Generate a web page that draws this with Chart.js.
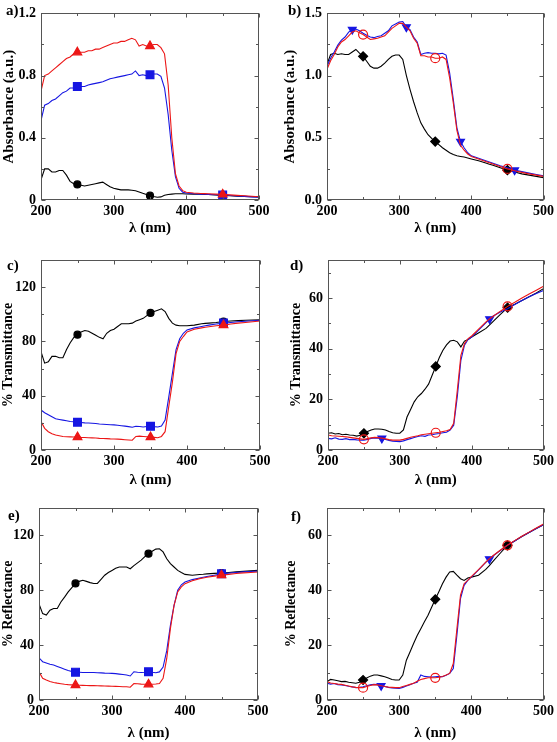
<!DOCTYPE html>
<html><head><meta charset="utf-8">
<script src="https://cdn.jsdelivr.net/npm/chart.js@4/dist/chart.umd.min.js"></script>
<style>
body{margin:0;background:#fff;width:557px;height:742px;position:relative;overflow:hidden}
canvas{position:absolute}
</style></head><body>
<canvas id="pa" width="278" height="245" style="left:0;top:0"></canvas>
<canvas id="pb" width="279" height="245" style="left:278px;top:0"></canvas>
<canvas id="pc" width="278" height="245" style="left:0;top:245px"></canvas>
<canvas id="pd" width="279" height="245" style="left:278px;top:245px"></canvas>
<canvas id="pe" width="278" height="252" style="left:0;top:490px"></canvas>
<canvas id="pf" width="279" height="252" style="left:278px;top:490px"></canvas>
<script>
// wavelength grid (nm)
const WL = [200,205,210,215,220,225,230,235,240,245,250,255,260,265,270,275,280,285,290,295,
  300,305,310,315,320,325,330,335,340,345,350,355,360,365,370,375,380,385,390,395,400,
  410,420,425,430,440,450,460,470,480,490,500];
const X_TICKS = [200,300,400,500];
const X_LABELS = ['200','300','400','500'];

// panel a – absorbance
const aRed = [0.70,0.80,0.81,0.83,0.85,0.87,0.89,0.91,0.92,0.94,
  0.95,0.95,0.95,0.96,0.96,0.97,0.97,0.98,0.99,1.00,
  1.01,1.01,1.02,1.02,1.03,1.04,1.03,0.99,1.00,0.99,
  0.99,1.00,1.00,0.98,0.94,0.74,0.40,0.17,0.09,0.06,0.05,
  0.045,0.042,0.041,0.04,0.038,0.036,0.033,0.03,0.027,0.024,0.021];
const aBlue = [0.51,0.61,0.62,0.64,0.65,0.67,0.69,0.70,0.72,0.72,
  0.73,0.73,0.73,0.74,0.745,0.75,0.755,0.76,0.77,0.78,
  0.785,0.79,0.795,0.80,0.805,0.81,0.83,0.80,0.805,0.80,
  0.805,0.81,0.81,0.795,0.72,0.55,0.32,0.15,0.075,0.05,0.045,
  0.04,0.038,0.037,0.036,0.034,0.032,0.029,0.026,0.023,0.02,0.018];
const aBlack = [0.13,0.20,0.20,0.18,0.18,0.19,0.19,0.16,0.12,0.105,
  0.10,0.095,0.09,0.095,0.10,0.105,0.11,0.115,0.10,0.085,
  0.075,0.07,0.065,0.065,0.065,0.063,0.06,0.052,0.043,0.035,
  0.028,0.022,0.018,0.02,0.03,0.035,0.038,0.04,0.04,0.04,0.039,
  0.038,0.037,0.036,0.035,0.032,0.029,0.027,0.025,0.023,0.021,0.02];
const aYTicks = [0,0.4,0.8,1.2];
const aYLabels = ['0','0.4','0.8','1.2'];

// panel b – absorbance
const bBlue = [1.075,1.14,1.19,1.245,1.285,1.31,1.35,1.37,1.375,1.36,
  1.34,1.325,1.31,1.305,1.315,1.32,1.34,1.36,1.40,1.415,
  1.43,1.435,1.39,1.37,1.31,1.27,1.17,1.18,1.185,1.18,
  1.18,1.175,1.18,1.165,1.02,0.81,0.58,0.47,0.42,0.38,0.355,
  0.335,0.315,0.305,0.295,0.275,0.26,0.24,0.228,0.216,0.205,0.195];
const bRed = [1.05,1.12,1.17,1.23,1.27,1.29,1.32,1.35,1.36,1.345,
  1.33,1.31,1.29,1.295,1.30,1.31,1.32,1.35,1.38,1.40,
  1.42,1.42,1.39,1.36,1.30,1.26,1.16,1.16,1.15,1.15,
  1.14,1.14,1.15,1.13,0.98,0.78,0.56,0.44,0.40,0.37,0.35,
  0.33,0.31,0.30,0.29,0.27,0.25,0.235,0.222,0.21,0.20,0.19];
const bBlack = [1.09,1.17,1.18,1.17,1.175,1.17,1.17,1.19,1.21,1.18,
  1.155,1.115,1.075,1.06,1.06,1.075,1.10,1.13,1.155,1.165,
  1.165,1.13,1.0,0.89,0.79,0.70,0.62,0.57,0.525,0.495,
  0.47,0.445,0.42,0.40,0.38,0.365,0.355,0.35,0.345,0.338,0.33,
  0.315,0.297,0.288,0.28,0.26,0.24,0.225,0.21,0.2,0.19,0.18];
const bYTicks = [0,0.5,1.0,1.5];
const bYLabels = ['0.0','0.5','1.0','1.5'];

// panel c – % transmittance
const cBlack = [72.5,64,65,69,69,68,68,74,79,83,
  85,87,88,87.5,86,84.5,83,82,86,88,
  89,91,93,93,93,93.5,95,96,97,99,
  101,102,103,104,102,97,93.5,92,91.5,91.5,91.5,
  92,93,93.3,93.5,94,94.7,95,95.3,95.6,95.8,96];
const cBlue = [29.5,27.5,26,24.5,23,22.5,22,21.5,21,20.8,
  20.5,20.3,20,19.9,19.7,19.5,19.2,19,18.8,18.6,
  18.5,18.2,17.9,17.6,17.2,16.8,17.5,17.3,17,17.3,
  17.5,17.2,17,17.7,22,39,56.5,74,82,86,88.5,
  90,91,91.5,92,92.8,93.5,94,94.5,94.9,95.2,95.5];
const cRed = [21,16,13.5,12,11,10.5,10,9.8,9.7,9.6,
  9.5,9.3,9.2,9,8.9,8.8,8.6,8.5,8.4,8.2,
  8.1,8,7.8,7.6,7.4,7.2,10,10.2,10,9.8,
  9.5,9.3,9,10,13.5,32,50,71,80,83.6,87,
  89,90,90.4,90.8,91.5,92,92.8,93.5,94,94.5,95];
const cYTicks = [0,40,80,120];
const cYLabels = ['0','40','80','120'];

// panel d – % transmittance
const dBlack = [6.6,6.8,6.3,6.5,6,6.2,5.9,5.8,5.5,5.8,
  6.6,7.3,7.9,8.3,8.3,8.2,7.9,7.3,6.8,6.6,
  6.6,7.9,13,16,19,21,22.3,24,26,29.5,
  33,36.5,39.4,41.5,43,43.3,42.7,40.7,43,43.6,44.6,
  46.3,48,49.4,50.8,53.5,56.2,57.5,59,60.5,62,63.7];
const dBlue = [4.6,4.4,4.8,4.3,4.2,4.5,4.1,4.2,4.0,3.9,
  3.9,4.2,4.6,4.8,4.7,4.6,4.2,3.8,3.5,3.4,
  3.3,3.6,4.1,4.5,4.9,5.3,5.6,5.4,5.9,6.0,
  6.3,6.5,6.8,7.0,7.9,9.8,21,35.4,41.4,43.6,44.6,
  47.4,50.3,51.7,52.9,54.5,55.8,57.4,59,60.5,61.8,63];
const dRed = [5.9,5.6,5.5,5.4,5.3,5.2,5.0,4.8,4.6,4.4,
  4.2,4.5,4.8,5.0,4.9,4.7,4.4,4.1,3.9,3.9,
  3.9,4.2,4.6,5.0,5.3,5.6,6.0,6.2,6.4,6.6,
  6.8,7.0,7.3,7.6,8.1,10.5,23.6,37.4,42,44,45,
  47.8,50.6,51.8,52.8,54.8,56.7,58.3,60,61.6,63.1,64.6];
const dYTicks = [0,20,40,60];
const dYLabels = ['0','20','40','60'];

// panel e – % reflectance
const eBlack = [70,63,62,65.5,66.7,66.7,71.5,75,78.8,82,
  85,86.5,87.3,86.5,85.6,85,85,88,91,93,
  94.5,96,97,97,97,95.7,98,100,102,104.5,
  106.7,108.5,110,110.3,108,103,99.4,97,94.5,93,91.6,
  91,91.5,91.7,92,92.3,92.6,93,93.4,93.8,94.2,94.5];
const eBlue = [30.8,27.9,27,26,25.5,24.5,23.5,22.5,21.5,20.8,
  20.3,20.2,20.1,20.1,20,20,19.9,19.8,19.6,19.5,
  19.4,19.2,18.9,18.6,18.2,17.5,20.6,20.2,20,20.2,
  20.6,20.2,19.9,20.5,24,36,54.5,69,80,84,86,
  87.8,89,89.5,90,91,92,92.5,93,93.4,93.7,94];
const eRed = [20.6,15.8,14.5,13.5,12.8,12.3,11.9,11.5,11.2,11,
  10.9,10.8,10.7,10.6,10.5,10.5,10.4,10.3,10.2,10.1,
  10,9.9,9.8,9.7,9.7,9.3,12,11.8,11.6,11.5,
  11.4,11.5,11.7,12,15.8,30.3,52,69,78.8,82.5,84.8,
  87,88.5,89,89.5,90.3,91,91.6,92.2,92.7,93,93.3];
const eYTicks = [0,40,80,120];
const eYLabels = ['0','40','80','120'];

// panel f – % reflectance
const fBlack = [6.7,7.5,7.3,7.0,6.7,6.8,6.5,6.3,6.1,6.5,
  7.3,8.0,8.7,9.1,9.1,8.8,8.5,8.0,7.5,7.3,
  7.3,9.1,14.5,17.5,20.6,23.5,26,28.5,30.9,33.8,
  36.7,39.5,42.4,44.8,46.7,46.9,45.5,44.2,43.6,44.5,44.8,
  45.5,47.6,49,50.5,53.5,56.4,58,59.6,61.1,62.5,63.9];
const fBlue = [6.1,5.8,6.0,5.6,5.5,5.3,5.0,4.8,4.5,4.6,
  4.8,5.2,5.5,5.7,5.6,5.2,4.9,4.6,4.4,4.3,
  4.2,4.6,5.1,5.6,6.1,6.5,9.1,8.6,8.5,8.4,
  8.5,8.6,8.5,9.0,9.7,11.5,23.6,37,41.8,43.6,44.8,
  47.4,50.2,51.4,52.5,54.5,56.4,58,59.6,61.1,62.5,63.9];
const fRed = [6.7,6.2,6.0,5.8,5.7,5.4,5.1,4.8,4.6,4.5,
  4.5,4.9,5.3,5.6,5.5,5.2,4.9,4.7,4.6,4.5,
  4.5,4.9,5.3,5.7,6.1,6.8,7.5,7.8,8.1,8.1,
  8.1,8.3,8.6,9.1,9.7,13.3,26,38.2,42.4,43.6,45,
  47.5,50.3,51.5,52.6,54.6,56.4,58.1,59.7,61.2,62.7,64.2];
const fYTicks = [0,20,40,60];
const fYLabels = ['0','20','40','60'];

// marker wavelengths
const MARK_ACE = [250,350,450];
const MARK_BLUE_B = [235,310,385,460];
const MARK_BLUE_DF = [275,425];

const RED = 'rgb(236,22,22)', BLUE = 'rgb(22,22,226)', BLACK = '#000';
const SERIF = '"Liberation Serif","Times New Roman",serif';

function series(vals, color, marks, style, radius, filled, rotation) {
  return {
    data: WL.map((x, i) => ({x: x, y: vals[i]})),
    borderColor: color, borderWidth: 1.1, tension: 0, fill: false,
    pointStyle: style, rotation: rotation || 0,
    pointRadius: ctx => marks.includes(WL[ctx.dataIndex]) ? radius : 0,
    pointHoverRadius: 0, pointHitRadius: 0,
    pointBackgroundColor: filled ? color : 'rgba(0,0,0,0)',
    pointBorderColor: color, pointBorderWidth: 1.2
  };
}

const framePlugin = {
  id: 'frame',
  afterDraw(chart, args, o) {
    const ctx = chart.ctx;
    const {left, right, top, bottom} = chart.chartArea;
    const sx = chart.scales.x, sy = chart.scales.y;
    ctx.save();
    ctx.strokeStyle = '#555';
    ctx.lineWidth = 1;
    const L = Math.round(left) + 0.5, R = Math.round(right) - 0.5;
    const T = Math.round(top) + 0.5, B = Math.round(bottom) - 0.5;
    ctx.strokeRect(L, T, R - L, B - T);
    ctx.beginPath();
    const tickX = (v, len) => {
      const p = Math.round(sx.getPixelForValue(v)) + 0.5;
      ctx.moveTo(p, B); ctx.lineTo(p, B - len);
      ctx.moveTo(p, T); ctx.lineTo(p, T + len);
    };
    const tickY = (v, len) => {
      const p = Math.round(sy.getPixelForValue(v)) + 0.5;
      ctx.moveTo(L, p); ctx.lineTo(L + len, p);
      ctx.moveTo(R, p); ctx.lineTo(R - len, p);
    };
    for (let i = 0; i < o.xt.length; i++) {
      tickX(o.xt[i], 4);
      if (i + 1 < o.xt.length) tickX((o.xt[i] + o.xt[i + 1]) / 2, 2.5);
    }
    for (let i = 0; i < o.yt.length; i++) {
      tickY(o.yt[i], 4);
      const nxt = i + 1 < o.yt.length ? o.yt[i + 1] : o.yt[i] + (o.yt[1] - o.yt[0]);
      const mid = (o.yt[i] + nxt) / 2;
      if (mid < o.ymax) tickY(mid, 2.5);
    }
    ctx.stroke();
    ctx.fillStyle = '#000';
    ctx.font = 'bold 15px ' + SERIF;
    ctx.textBaseline = 'alphabetic';
    ctx.textAlign = 'left';
    ctx.fillText(o.label, o.lx, o.ly);
    ctx.restore();
  }
};

function makePanel(p) {
  const font = {family: SERIF, weight: 'bold', size: 14};
  new Chart(document.getElementById(p.id), {
    type: 'line',
    data: {datasets: p.datasets},
    plugins: [framePlugin],
    options: {
      responsive: false, animation: false, devicePixelRatio: 1,
      layout: {padding: {left: 0, top: p.area.t, right: p.w - p.area.r, bottom: 0}},
      plugins: {
        legend: {display: false}, tooltip: {enabled: false},
        frame: {xt: X_TICKS, yt: p.yTicks, ymax: p.yMax, label: p.label, lx: p.lx, ly: p.ly}
      },
      scales: {
        x: {
          type: 'linear', min: 200, max: 500,
          afterBuildTicks: s => { s.ticks = X_TICKS.map(v => ({value: v})); },
          afterFit: s => { s.height = p.h - p.area.b; },
          ticks: {callback: (v, i) => X_LABELS[i], font: font, color: '#000', padding: 3, autoSkip: false, maxRotation: 0},
          grid: {display: false, drawTicks: false}, border: {display: false},
          title: {display: true, text: 'λ (nm)', color: '#000',
            font: {family: SERIF, weight: 'bold', size: 15}, padding: {top: 0, bottom: p.xPad}}
        },
        y: {
          type: 'linear', min: 0, max: p.yMax,
          afterBuildTicks: s => { s.ticks = p.yTicks.map(v => ({value: v})); },
          afterFit: s => { s.width = p.area.l; },
          ticks: {callback: (v, i) => p.yLabels[i], font: font, color: '#000', padding: 5, autoSkip: false},
          grid: {display: false, drawTicks: false}, border: {display: false},
          title: {display: true, text: p.yTitle, color: '#000',
            font: {family: SERIF, weight: 'bold', size: p.yTitleSize}, padding: {top: p.yPad, bottom: 0}}
        }
      }
    }
  });
}

function setACE(red, blue, black) {
  return [
    series(red, RED, MARK_ACE, 'triangle', 5, true),
    series(blue, BLUE, MARK_ACE, 'rect', 5.5, true),
    series(black, BLACK, MARK_ACE, 'circle', 3.5, true)
  ];
}
function setBDF(red, blue, black, blueMarks) {
  return [
    series(red, RED, MARK_ACE, 'circle', 4.5, false),
    series(blue, BLUE, blueMarks, 'triangle', 4.5, true, 180),
    series(black, BLACK, MARK_ACE, 'rectRot', 4.5, true)
  ];
}

makePanel({id: 'pa', w: 278, h: 245, area: {l: 41, t: 9, r: 259, b: 200},
  yMax: 1.2, yTicks: aYTicks, yLabels: aYLabels, yTitle: 'Absorbance (a.u.)', yTitleSize: 15, yPad: 0, xPad: 8,
  label: 'a)', lx: 6, ly: 15, datasets: setACE(aRed, aBlue, aBlack)});
makePanel({id: 'pb', w: 279, h: 245, area: {l: 49, t: 9, r: 268, b: 200},
  yMax: 1.5, yTicks: bYTicks, yLabels: bYLabels, yTitle: 'Absorbance (a.u.)', yTitleSize: 15, yPad: 3, xPad: 8,
  label: 'b)', lx: 10, ly: 15, datasets: setBDF(bRed, bBlue, bBlack, MARK_BLUE_B)});
makePanel({id: 'pc', w: 278, h: 245, area: {l: 41, t: 15, r: 260, b: 205},
  yMax: 140, yTicks: cYTicks, yLabels: cYLabels, yTitle: '% Transmittance', yTitleSize: 14, yPad: 0, xPad: 1,
  label: 'c)', lx: 7, ly: 25, datasets: setACE(cRed, cBlue, cBlack)});
makePanel({id: 'pd', w: 279, h: 245, area: {l: 50, t: 15, r: 268, b: 205},
  yMax: 75, yTicks: dYTicks, yLabels: dYLabels, yTitle: '% Transmittance', yTitleSize: 14, yPad: 10, xPad: 1,
  label: 'd)', lx: 12, ly: 25, datasets: setBDF(dRed, dBlue, dBlack, MARK_BLUE_DF)});
makePanel({id: 'pe', w: 278, h: 252, area: {l: 39, t: 18, r: 258, b: 210},
  yMax: 140, yTicks: eYTicks, yLabels: eYLabels, yTitle: '% Reflectance', yTitleSize: 14, yPad: 0, xPad: 0,
  label: 'e)', lx: 8, ly: 30, datasets: setACE(eRed, eBlue, eBlack)});
makePanel({id: 'pf', w: 279, h: 252, area: {l: 49, t: 18, r: 268, b: 210},
  yMax: 70, yTicks: fYTicks, yLabels: fYLabels, yTitle: '% Reflectance', yTitleSize: 14, yPad: 5, xPad: 0,
  label: 'f)', lx: 13, ly: 31, datasets: setBDF(fRed, fBlue, fBlack, MARK_BLUE_DF)});
</script>
</body></html>
